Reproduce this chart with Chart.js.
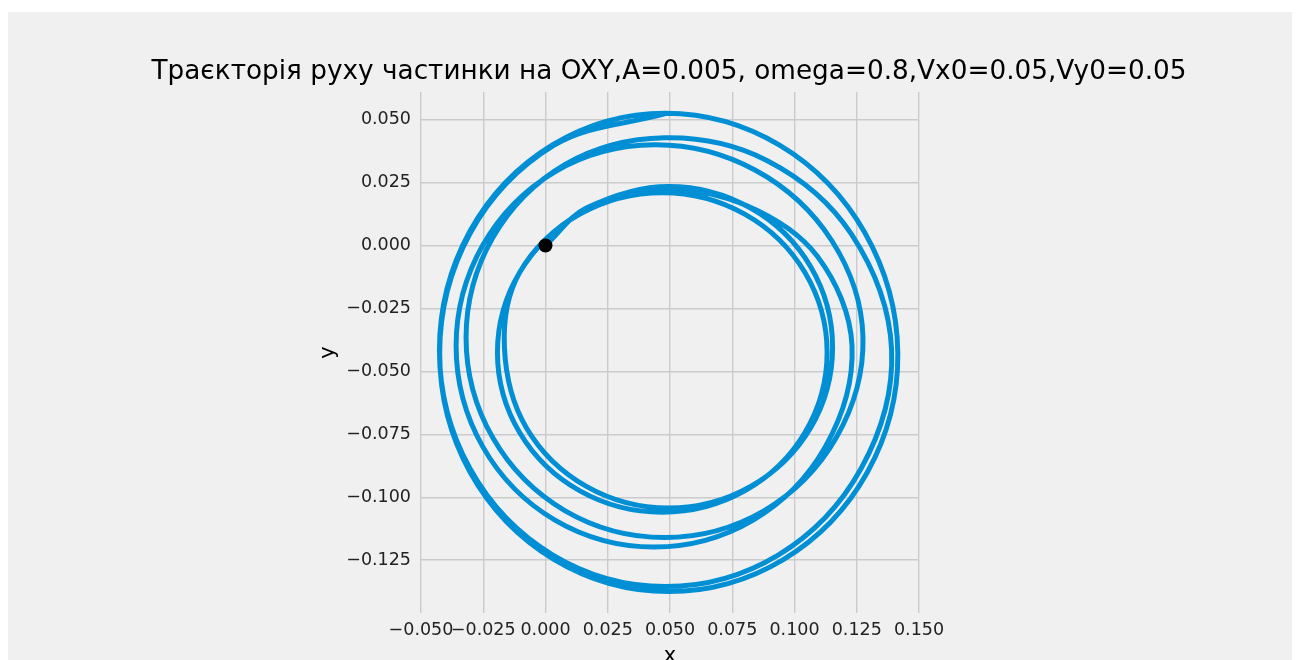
<!DOCTYPE html>
<html>
<head>
<meta charset="utf-8">
<script src="https://cdn.jsdelivr.net/npm/chart.js@4.4.1/dist/chart.umd.min.js"></script>
<style>
  html, body { margin: 0; padding: 0; background: #ffffff; overflow: hidden; }
  #frame { position: absolute; left: 8px; top: 12px; width: 1284px; height: 680px; background: #f0f0f0; }
  #traj { display: block; }
</style>
</head>
<body>
<div id="frame"><canvas id="traj" width="1284" height="680"></canvas></div>
<script>
// Trajectory samples (x, y), clockwise, the orbit widening ring by ring
const trajX = [
    0.0000, 0.0164, 0.0494, 0.0824, 0.1065, 0.1153, 0.1065, 0.0824, 0.0494, 0.0164, -0.0077, -0.0165,
    -0.0104, 0.0138, 0.0469, 0.0800, 0.1042, 0.1131, 0.1042, 0.0800, 0.0469, 0.0138, -0.0104, -0.0193,
    -0.0104, 0.0145, 0.0475, 0.0807, 0.1091,
    0.1231, 0.1124, 0.0834, 0.0436, 0.0038, -0.0252, -0.0359, -0.0252, 0.0038, 0.0436, 0.0843, 0.1150,
    0.1275, 0.1168, 0.0877, 0.0478, 0.0079, -0.0212, -0.0319, -0.0212, 0.0079, 0.0478, 0.0889, 0.1228,
    0.1390, 0.1268, 0.0936, 0.0482, 0.0028, -0.0304, -0.0426, -0.0304, 0.0028, 0.0482, 0.0940, 0.1282,
    0.1415, 0.1292, 0.0955, 0.0495, 0.0035, -0.0302, -0.0425, -0.0302, 0.0033, 0.0485
];
const trajY = [
    0.0000, 0.0149, 0.0235, 0.0149, -0.0084, -0.0404, -0.0724, -0.0957, -0.1043, -0.0957, -0.0724, -0.0404,
    -0.0107, 0.0125, 0.0210, 0.0125, -0.0107, -0.0425, -0.0743, -0.0975, -0.1060, -0.0975, -0.0743, -0.0425,
    -0.0107, 0.0132, 0.0220, 0.0159, -0.0042,
    -0.0399, -0.0799, -0.1091, -0.1198, -0.1091, -0.0799, -0.0399, 0.0001, 0.0293, 0.0400, 0.0299, 0.0019,
    -0.0366, -0.0763, -0.1054, -0.1160, -0.1054, -0.0763, -0.0366, 0.0031, 0.0322, 0.0428, 0.0338, 0.0046,
    -0.0415, -0.0885, -0.1229, -0.1355, -0.1229, -0.0885, -0.0415, 0.0056, 0.0400, 0.0526, 0.0399, 0.0052,
    -0.0428, -0.0902, -0.1248, -0.1375, -0.1248, -0.0902, -0.0428, 0.0050, 0.0398, 0.0525
];

// Starting position of the particle
const startX = [0.0];
const startY = [0.0];

const xTicks = [-0.05, -0.025, 0.0, 0.025, 0.05, 0.075, 0.1, 0.125, 0.15];
const yTicks = [0.05, 0.025, 0.0, -0.025, -0.05, -0.075, -0.1, -0.125];

const titleText = 'Траєкторія руху частинки на OXY,A=0.005, omega=0.8,Vx0=0.05,Vy0=0.05';

const trajPoints = trajX.map((x, i) => ({ x: x, y: trajY[i] }));
const startPoints = startX.map((x, i) => ({ x: x, y: startY[i] }));

const fmtTick = (v) => v.toFixed(3).replace('-', '\u2212');
const FONT = 'DejaVu Sans';

// title is wider than the axes, so it is drawn by hand, centred over them
const titlePlugin = {
    id: 'wideTitle',
    afterDraw(chart) {
        const ctx = chart.ctx;
        const area = chart.chartArea;
        ctx.save();
        ctx.font = '27px "' + FONT + '"';
        ctx.fillStyle = '#000000';
        ctx.textAlign = 'center';
        ctx.textBaseline = 'alphabetic';
        const w = ctx.measureText(titleText).width;
        const sx = Math.min(1, 1035 / w);
        ctx.translate((area.left + area.right) / 2 - 1, 67);
        ctx.scale(sx, 1);
        ctx.fillText(titleText, 0, 0);
        ctx.restore();
    }
};

new Chart(document.getElementById('traj'), {
    type: 'scatter',
    data: {
        datasets: [
            {
                data: trajPoints,
                showLine: true,
                borderColor: '#008fd5',
                borderWidth: 5,
                pointRadius: 0,
                tension: 0.35,
                fill: false,
                order: 1
            },
            {
                data: startPoints,
                pointRadius: 7,
                pointBackgroundColor: '#000000',
                pointBorderWidth: 0,
                order: 0
            }
        ]
    },
    plugins: [titlePlugin],
    options: {
        responsive: false,
        animation: false,
        devicePixelRatio: 1,
        layout: { padding: { left: 300, right: 373, top: 80, bottom: 0 } },
        plugins: {
            legend: { display: false },
            tooltip: { enabled: false },
            title: { display: false }
        },
        scales: {
            x: {
                type: 'linear',
                min: -0.05,
                max: 0.15,
                afterBuildTicks: (scale) => { scale.ticks = xTicks.map(v => ({ value: v })); },
                afterFit: (scale) => { scale.height = 79; },
                grid: { color: '#cbcbcb', lineWidth: 1.4, drawTicks: false },
                border: { display: false },
                ticks: {
                    autoSkip: false,
                    maxRotation: 0,
                    minRotation: 0,
                    padding: 7,
                    color: '#222222',
                    font: { family: FONT, size: 17.5 },
                    callback: fmtTick
                },
                title: {
                    display: true,
                    text: 'x',
                    color: '#000000',
                    font: { family: FONT, size: 21 },
                    padding: { top: 0, bottom: 23 }
                }
            },
            y: {
                type: 'linear',
                min: -0.146,
                max: 0.061,
                afterBuildTicks: (scale) => { scale.ticks = yTicks.map(v => ({ value: v })); },
                afterFit: (scale) => { scale.width = 113; },
                grid: { color: '#cbcbcb', lineWidth: 1.4, drawTicks: false },
                border: { display: false },
                ticks: {
                    padding: 10,
                    color: '#222222',
                    font: { family: FONT, size: 17.5 },
                    callback: fmtTick
                },
                title: {
                    display: true,
                    text: 'y',
                    color: '#000000',
                    font: { family: FONT, size: 21 },
                    padding: { top: 8, bottom: 0 }
                }
            }
        }
    }
});
</script>
</body>
</html>
